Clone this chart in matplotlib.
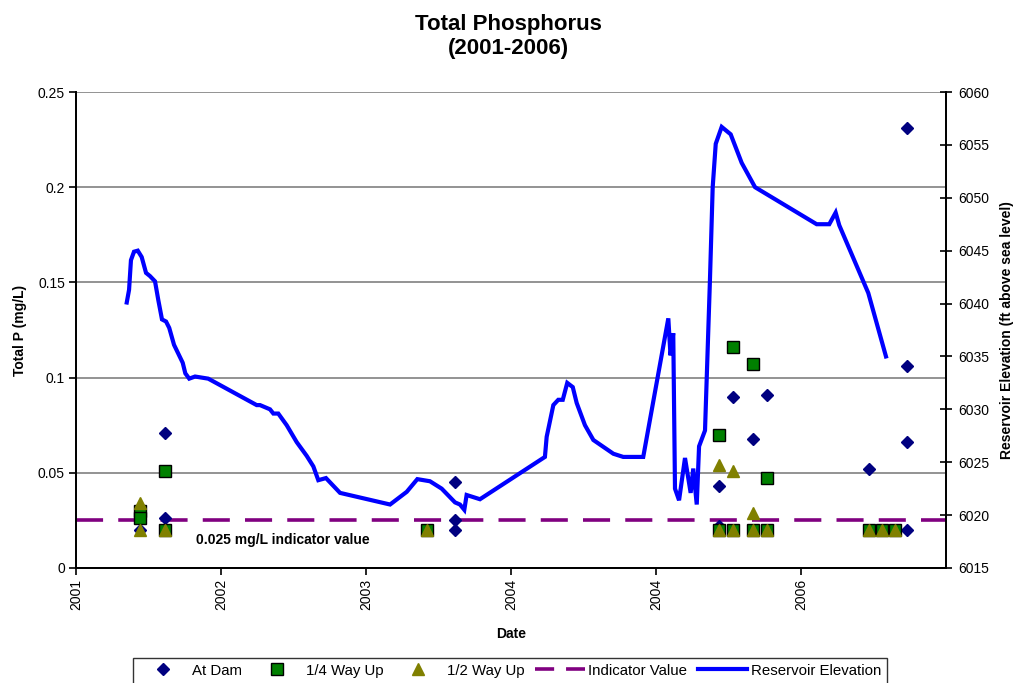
import matplotlib
matplotlib.use("Agg")
import matplotlib.pyplot as plt
from matplotlib.lines import Line2D

plt.rcParams["font.family"] = ["Liberation Sans", "DejaVu Sans"]

# sample dates as decimal years, values in mg/L
dam_x = [2001.441, 2001.441, 2001.614, 2001.614, 2003.617, 2003.617, 2003.617,
         2005.434, 2005.434, 2005.533, 2005.667, 2005.763, 2006.471,
         2006.729, 2006.729, 2006.729, 2006.729]
dam_y = [0.030, 0.020, 0.071, 0.026, 0.045, 0.025, 0.020,
         0.043, 0.022, 0.090, 0.068, 0.091, 0.052,
         0.231, 0.106, 0.066, 0.020]

quarter_x = [2001.441, 2001.441, 2001.614, 2001.614, 2003.421, 2005.434, 2005.434,
             2005.533, 2005.533, 2005.667, 2005.667, 2005.763, 2005.763,
             2006.471, 2006.557, 2006.648]
quarter_y = [0.030, 0.026, 0.051, 0.020, 0.020, 0.070, 0.020,
             0.116, 0.020, 0.107, 0.020, 0.047, 0.020,
             0.020, 0.020, 0.020]

half_x = [2001.441, 2001.441, 2001.614, 2003.421, 2005.434, 2005.434, 2005.533,
          2005.533, 2005.667, 2005.667, 2005.763, 2006.471, 2006.557, 2006.648]
half_y = [0.034, 0.020, 0.020, 0.020, 0.054, 0.020, 0.051,
          0.020, 0.029, 0.020, 0.020, 0.020, 0.020, 0.020]

INDICATOR = 0.025

# reservoir elevation (ft above sea level)
elev_x = [2001.350, 2001.366, 2001.379, 2001.400, 2001.426, 2001.453, 2001.483,
          2001.510, 2001.545, 2001.568, 2001.593, 2001.621, 2001.643, 2001.676,
          2001.736, 2001.754, 2001.781, 2001.821, 2001.912, 2002.246, 2002.269,
          2002.338, 2002.361, 2002.395, 2002.453, 2002.522, 2002.591, 2002.637,
          2002.671, 2002.724, 2002.821, 2003.166, 2003.281, 2003.354, 2003.441,
          2003.522, 2003.614, 2003.648, 2003.678, 2003.694, 2003.786, 2004.234,
          2004.246, 2004.292, 2004.326, 2004.357, 2004.388, 2004.426, 2004.453,
          2004.510, 2004.568, 2004.706, 2004.774, 2004.912, 2005.085, 2005.100,
          2005.119, 2005.131, 2005.159, 2005.200, 2005.239, 2005.257, 2005.281,
          2005.297, 2005.338, 2005.372, 2005.391, 2005.412, 2005.453, 2005.515,
          2005.591, 2005.683, 2006.108, 2006.195, 2006.239, 2006.264, 2006.464,
          2006.586]
elev_y = [6040.1, 6041.3, 6044.1, 6044.9, 6045.0, 6044.4, 6042.9,
          6042.6, 6042.1, 6040.3, 6038.5, 6038.3, 6037.7, 6036.1,
          6034.4, 6033.4, 6032.9, 6033.1, 6032.9, 6030.4, 6030.4,
          6030.0, 6029.6, 6029.6, 6028.5, 6026.9, 6025.6, 6024.6,
          6023.3, 6023.5, 6022.1, 6021.0, 6022.2, 6023.4, 6023.2,
          6022.5, 6021.2, 6021.0, 6020.5, 6021.9, 6021.5, 6025.5,
          6027.4, 6030.4, 6030.9, 6030.9, 6032.5, 6032.1, 6030.6,
          6028.5, 6027.1, 6025.8, 6025.5, 6025.5, 6038.6, 6035.1,
          6037.2, 6022.5, 6021.4, 6025.4, 6022.1, 6024.4, 6021.0,
          6026.5, 6028.0, 6042.2, 6051.0, 6055.1, 6056.7, 6056.0,
          6053.3, 6051.0, 6047.5, 6047.5, 6048.6, 6047.4, 6041.0,
          6035.0]

year_ticks = [2001, 2002, 2003, 2004, 2005, 2006]
year_labels = ["2001", "2002", "2003", "2004", "2004", "2006"]
p_ticks = [0, 0.05, 0.1, 0.15, 0.2, 0.25]
p_labels = ["0", "0.05", "0.1", "0.15", "0.2", "0.25"]
elev_ticks = list(range(6015, 6061, 5))

NAVY, GREEN, OLIVE, PURPLE, BLUE = "#000080", "#008000", "#808000", "#800080", "#0000FF"

fig = plt.figure(figsize=(10.16, 6.83), dpi=100)
ax = fig.add_axes([0.0748, 0.1684, 0.8563, 0.6969])
ax2 = ax.twinx()

ax.grid(axis="y", color="#808080", lw=1.2)
ax.set_axisbelow(True)

ax.axhline(INDICATOR, color=PURPLE, lw=2.6, dashes=(7.5, 4.2), zorder=2)
ax.plot(dam_x, dam_y, "D", color=NAVY, ms=6.6, mec=NAVY, ls="none", zorder=3)
ax.plot(quarter_x, quarter_y, "s", color=GREEN, ms=8, mec="black", mew=1, ls="none", zorder=4)
ax.plot(half_x, half_y, "^", color=OLIVE, ms=9, mec=OLIVE, ls="none", zorder=5)
ax.text(2001.83, 0.0148, "0.025 mg/L indicator value", fontsize=10,
        fontweight="bold", ha="left", va="center")

ax2.plot(elev_x, elev_y, color=BLUE, lw=3.0, solid_joinstyle="miter")

ax.set_xlim(2001, 2007)
ax.set_ylim(0, 0.25)
ax2.set_ylim(6015, 6060)
ax.set_xticks(year_ticks)
ax.set_xticklabels(year_labels, rotation=90, fontsize=10)
ax.set_yticks(p_ticks)
ax.set_yticklabels(p_labels, fontsize=10)
ax2.set_yticks(elev_ticks)
ax2.set_yticklabels([str(t) for t in elev_ticks], fontsize=10)

ax.tick_params(axis="x", direction="out", length=5, width=1.2, pad=3)
ax.tick_params(axis="y", direction="out", length=5, width=1.2, pad=3)
ax2.tick_params(axis="y", direction="inout", length=9, width=1.2, pad=4)
for a in (ax, ax2):
    for s in a.spines.values():
        s.set_linewidth(1.3)
ax.spines["top"].set_visible(False)
ax2.spines["top"].set_visible(False)

ax.set_xlabel("Date", fontsize=10, fontweight="bold", labelpad=12)
ax.set_ylabel("Total P (mg/L)", fontsize=10, fontweight="bold", labelpad=8)
ax2.set_ylabel("Reservoir Elevation (ft above sea level)", fontsize=10,
               fontweight="bold", labelpad=8)

fig.text(0.5, 0.947, "Total Phosphorus\n(2001-2006)", ha="center", va="center",
         fontsize=16, fontweight="bold", linespacing=1.2)

handles = [
    Line2D([], [], marker="D", color=NAVY, ms=6.6, ls="none"),
    Line2D([], [], marker="s", color=GREEN, mec="black", ms=8, ls="none"),
    Line2D([], [], marker="^", color=OLIVE, ms=9, ls="none"),
    Line2D([], [], color=PURPLE, lw=2.6, dashes=(5.3, 3.3)),
    Line2D([], [], color=BLUE, lw=3.0),
]
labels = ["At Dam", "1/4 Way Up", "1/2 Way Up", "Indicator Value", "Reservoir Elevation"]
leg = fig.legend(handles, labels, loc="upper center", bbox_to_anchor=(0.502, 0.037),
                 ncol=5, fontsize=10.8, frameon=True, fancybox=False, edgecolor="black",
                 handlelength=3.3, columnspacing=0.7, handletextpad=0.25,
                 borderpad=0.4, borderaxespad=0)
leg.get_frame().set_linewidth(1.0)

fig.savefig("out.png", dpi=100, facecolor="white")
